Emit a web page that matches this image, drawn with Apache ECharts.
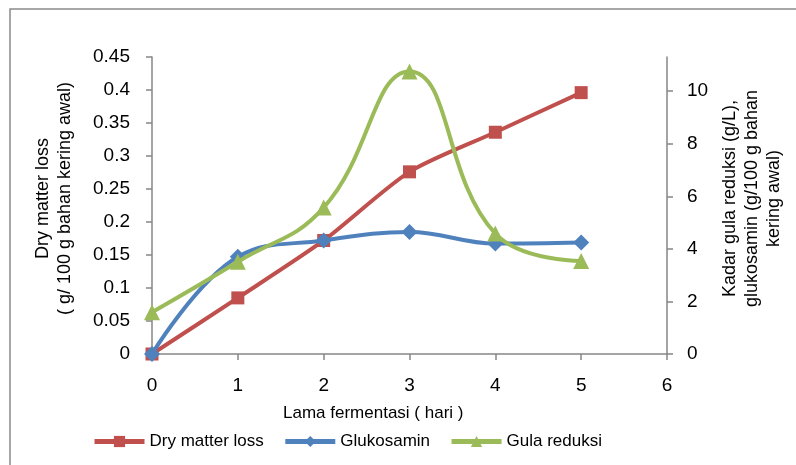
<!DOCTYPE html>
<html>
<head>
<meta charset="utf-8">
<script src="https://cdn.jsdelivr.net/npm/echarts@6/dist/echarts.min.js"></script>
<style>html,body{margin:0;padding:0;background:#fff}#c{width:796px;height:465px}</style>
</head>
<body>
<div id="c"></div>
<script>
var days = [0, 1, 2, 3, 4, 5];
var dryMatterLoss = [0, 0.085, 0.172, 0.276, 0.336, 0.396];
var glukosamin = [0, 3.70, 4.32, 4.64, 4.20, 4.24];
var gulaReduksi = [1.59, 3.51, 5.57, 10.75, 4.58, 3.54];
var leftTicks = [0, 0.05, 0.1, 0.15, 0.2, 0.25, 0.3, 0.35, 0.4, 0.45];
var rightTicks = [0, 2, 4, 6, 8, 10];
var seriesNames = ['Dry matter loss', 'Glukosamin', 'Gula reduksi'];

function pairs(v){ return days.map(function(d,i){ return [d, v[i]]; }); }

var FONT = '"Liberation Sans", Arial, sans-serif';
var axisCol = '#868686';
var chart = echarts.init(document.getElementById('c'));
chart.setOption({
  animation: false,
  textStyle: { fontFamily: FONT, color: '#000' },
  graphic: [
    { type: 'rect', shape: { x: 10, y: 9, width: 800, height: 470 }, style: { fill: 'none', stroke: '#8a8a8a', lineWidth: 1.5 }, silent: true },
    { type: 'text', left: 283, top: 405, style: { text: 'Lama fermentasi ( hari )', font: '17px ' + FONT, fill: '#000' } }
  ],
  legend: {
    left: 87, top: 428,
    itemWidth: 50, itemHeight: 14, itemGap: 19,
    lineStyle: { width: 5 },
    textStyle: { fontSize: 17, color: '#000', fontFamily: FONT },
    data: seriesNames
  },
  grid: { left: 152, right: 129, top: 57, bottom: 111, containLabel: false },
  xAxis: {
    type: 'value', min: 0, max: 6, interval: 1,
    axisLine: { show: true, lineStyle: { color: axisCol, width: 1.5 } },
    axisTick: { show: true, length: 6, lineStyle: { color: axisCol, width: 1.5 } },
    axisLabel: { fontSize: 19, color: '#000', margin: 22, fontFamily: FONT },
    splitLine: { show: false }
  },
  yAxis: [
    {
      type: 'value', min: 0, max: 0.45, interval: 0.05, position: 'left',
      name: 'Dry matter loss\n( g/ 100 g bahan kering awal)',
      nameLocation: 'middle', nameRotate: 90, nameGap: 76,
      nameTextStyle: { fontSize: 18, color: '#000', lineHeight: 22, fontFamily: FONT, padding: [0, 0, 0, 14] },
      axisLine: { show: true, lineStyle: { color: axisCol, width: 1.5 } },
      axisTick: { show: true, length: 6, lineStyle: { color: axisCol, width: 1.5 } },
      axisLabel: { fontSize: 19, color: '#000', margin: 22, fontFamily: FONT,
        customValues: leftTicks },
      splitLine: { show: false }
    },
    {
      type: 'value', min: 0, max: 11.3, interval: 2, position: 'right',
      name: 'Kadar gula reduksi (g/L),\nglukosamin (g/100 g bahan\nkering awal)',
      nameLocation: 'middle', nameRotate: 90, nameGap: 47,
      nameTextStyle: { fontSize: 18, color: '#000', lineHeight: 22, fontFamily: FONT, padding: [0, 0, 0, 14] },
      axisLine: { show: true, lineStyle: { color: axisCol, width: 1.5 } },
      axisTick: { show: true, length: 6, lineStyle: { color: axisCol, width: 1.5 }, customValues: rightTicks },
      axisLabel: { fontSize: 19, color: '#000', margin: 20, fontFamily: FONT, customValues: rightTicks },
      splitLine: { show: false }
    }
  ],
  series: [
    {
      name: seriesNames[0], type: 'line', yAxisIndex: 0, data: pairs(dryMatterLoss),
      smooth: 0.25, symbol: 'rect', symbolSize: 13,
      lineStyle: { width: 4, color: '#C0504D' }, itemStyle: { color: '#C0504D' }, z: 2
    },
    {
      name: seriesNames[1], type: 'line', yAxisIndex: 1, data: pairs(glukosamin),
      smooth: 0.4, symbol: 'diamond', symbolSize: 16,
      lineStyle: { width: 4, color: '#4F81BD' }, itemStyle: { color: '#4F81BD' }, z: 3
    },
    {
      name: seriesNames[2], type: 'line', yAxisIndex: 1, data: pairs(gulaReduksi),
      smooth: 0.45, symbol: 'triangle', symbolSize: 16,
      lineStyle: { width: 4, color: '#9BBB59' }, itemStyle: { color: '#9BBB59' }, z: 4
    }
  ]
});
</script>
</body>
</html>
